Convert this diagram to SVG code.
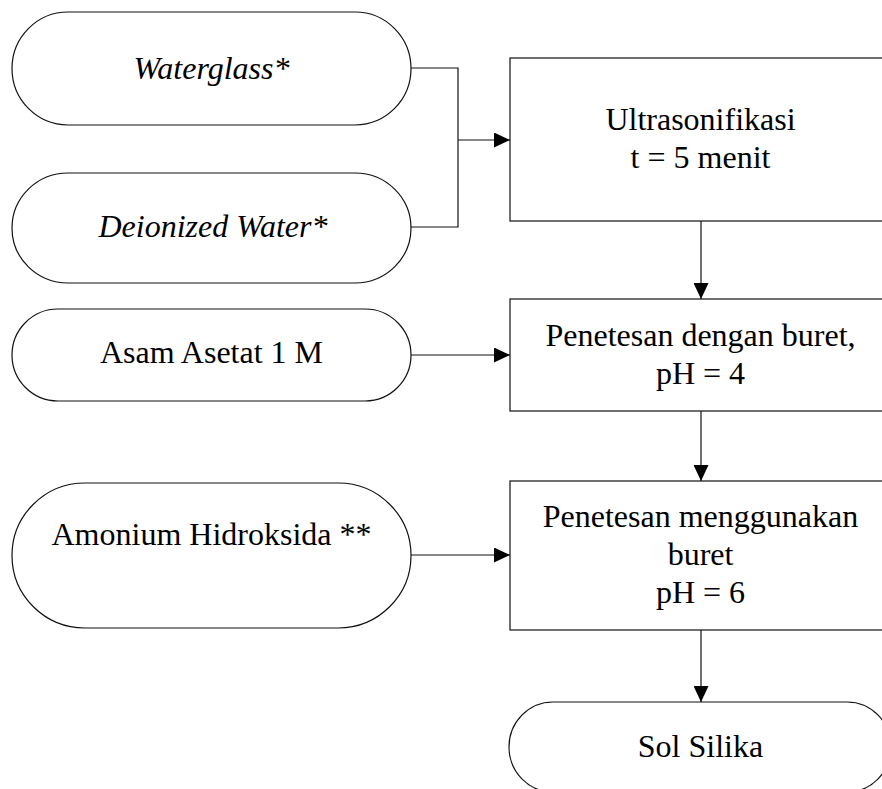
<svg xmlns="http://www.w3.org/2000/svg" width="882" height="789" viewBox="0 0 882 789">
  <style>
    .shape { fill: #ffffff; stroke: #111111; stroke-width: 1.2; }
    .line { fill: none; stroke: #111111; stroke-width: 1.2; }
    .label { font-family: "Liberation Serif", Tinos, "Times New Roman", Times, "DejaVu Serif", serif; font-size: 32px; fill: #000000; text-anchor: middle; }
    .it { font-style: italic; }
  </style>
  <defs>
    <marker id="arrow" markerWidth="16" markerHeight="15" refX="16" refY="7.5" orient="auto" markerUnits="userSpaceOnUse">
      <path d="M0,0 L16,7.5 L0,15 Z" fill="#000000"/>
    </marker>
  </defs>

  <rect width="882" height="789" fill="#ffffff"/>

  <!-- inputs -->
  <g id="waterglass">
    <rect class="shape" x="12" y="12" width="399" height="113" rx="56" ry="56.5"/>
    <text class="label it" font-family="Liberation Serif, serif" x="211.5" y="79">Waterglass*</text>
  </g>
  <g id="deionized-water">
    <rect class="shape" x="12" y="173" width="399" height="110" rx="56" ry="55"/>
    <text class="label it" font-family="Liberation Serif, serif" x="213" y="237">Deionized Water*</text>
  </g>
  <g id="asam-asetat">
    <rect class="shape" x="12" y="309" width="399" height="92" rx="46" ry="46"/>
    <text class="label" font-family="Liberation Serif, serif" x="211.5" y="363">Asam Asetat 1 M</text>
  </g>
  <g id="amonium-hidroksida">
    <rect class="shape" x="12" y="483" width="399" height="145" rx="73" ry="72.5"/>
    <text class="label" font-family="Liberation Serif, serif" x="211.5" y="545">Amonium Hidroksida **</text>
  </g>

  <!-- process steps -->
  <g id="ultrasonifikasi">
    <rect class="shape" x="510" y="58" width="381" height="163"/>
    <text class="label" font-family="Liberation Serif, serif" x="700.5" y="130">Ultrasonifikasi</text>
    <text class="label" font-family="Liberation Serif, serif" x="700.5" y="168">t = 5 menit</text>
  </g>
  <g id="penetesan-buret">
    <rect class="shape" x="510" y="299" width="381" height="112"/>
    <text class="label" font-family="Liberation Serif, serif" x="700.5" y="346">Penetesan dengan buret,</text>
    <text class="label" font-family="Liberation Serif, serif" x="700.5" y="384">pH = 4</text>
  </g>
  <g id="penetesan-menggunakan">
    <rect class="shape" x="510" y="481" width="381" height="149"/>
    <text class="label" font-family="Liberation Serif, serif" x="700.5" y="527">Penetesan menggunakan</text>
    <text class="label" font-family="Liberation Serif, serif" x="700.5" y="565">buret</text>
    <text class="label" font-family="Liberation Serif, serif" x="700.5" y="603">pH = 6</text>
  </g>
  <g id="sol-silika">
    <rect class="shape" x="509" y="702" width="382" height="90" rx="44" ry="45"/>
    <text class="label" font-family="Liberation Serif, serif" x="700.5" y="757">Sol Silika</text>
  </g>

  <!-- connectors -->
  <g id="connectors">
    <polyline class="line" points="411,68 458,68 458,227 411,227"/>
    <line class="line" x1="458" y1="140" x2="510" y2="140" marker-end="url(#arrow)"/>
    <line class="line" x1="411" y1="355" x2="510" y2="355" marker-end="url(#arrow)"/>
    <line class="line" x1="411" y1="555" x2="510" y2="555" marker-end="url(#arrow)"/>
    <line class="line" x1="701" y1="221" x2="701" y2="299" marker-end="url(#arrow)"/>
    <line class="line" x1="701" y1="411" x2="701" y2="481" marker-end="url(#arrow)"/>
    <line class="line" x1="701" y1="630" x2="701" y2="702" marker-end="url(#arrow)"/>
  </g>
</svg>
